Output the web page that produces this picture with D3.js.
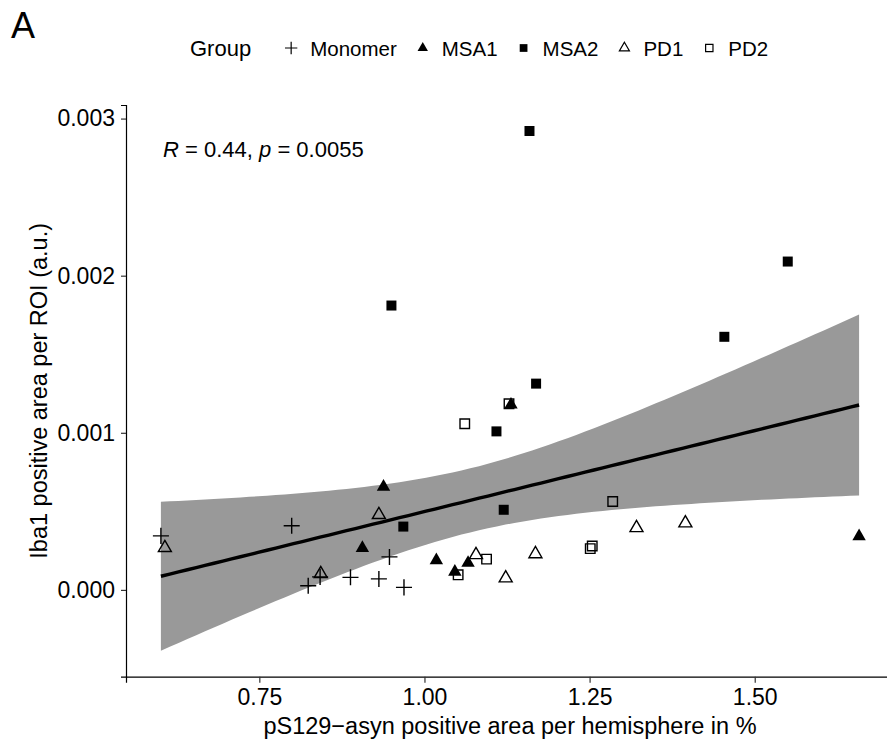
<!DOCTYPE html>
<html>
<head>
<meta charset="utf-8">
<script src="https://cdn.jsdelivr.net/npm/d3@7"></script>
<style>
    body { margin: 0; background: #fff; }
    #chart-area { width: 887px; height: 747px; overflow: hidden; }
    text { font-family: "Liberation Sans", Arial, Helvetica, sans-serif; fill: #000; }
</style>
</head>
<body>
<div id="chart-area"></div>
<script>
// values: x = pS129-asyn area (%), y = Iba1 area (a.u.)
const groupNames = ["Monomer", "MSA1", "MSA2", "PD1", "PD2"];

const monomerX = [0.601, 0.799, 0.824, 0.842, 0.888, 0.931, 0.969, 0.947];
const monomerY = [0.000344, 0.000408, 0.000026, 0.000083, 0.000080, 0.000070, 0.000016, 0.000210];

const msa1X = [0.906, 1.018, 1.066, 1.046, 0.938, 1.131, 1.658];
const msa1Y = [0.000266, 0.000188, 0.000172, 0.000115, 0.000656, 0.001179, 0.000341];

const msa2X = [1.159, 0.950, 1.550, 1.454, 1.169, 1.109, 1.120, 0.968];
const msa2Y = [0.002921, 0.001810, 0.002090, 0.001611, 0.001313, 0.001009, 0.000510, 0.000403];

const pd1X = [0.607, 0.931, 0.843, 1.078, 1.168, 1.123, 1.321, 1.395];
const pd1Y = [0.000268, 0.000478, 0.000102, 0.000223, 0.000229, 0.000075, 0.000395, 0.000425];

const pd2X = [1.285, 1.094, 1.051, 1.251, 1.254, 1.061, 1.128];
const pd2Y = [0.000563, 0.000196, 0.000096, 0.000263, 0.000279, 0.001058, 0.001185];

const xTicks = [0.75, 1.00, 1.25, 1.50];
const yTicks = [0.000, 0.001, 0.002, 0.003];

const corR = "0.44";
const corP = "0.0055";

// t quantile for the 95% band, df = n - 2 = 36
const tCrit = 2.028;

class ScatterVis {
    constructor(parentElement, points) {
        this.parentElement = parentElement;
        this.points = points;
        this.initVis();
    }

    initVis() {
        const vis = this;

        vis.margin = { top: 105, left: 126 };
        vis.width = 768;
        vis.height = 571.7;

        vis.root = d3.select("#" + vis.parentElement)
            .append("svg")
            .attr("width", 887)
            .attr("height", 747);

        vis.root.append("rect")
            .attr("width", 887)
            .attr("height", 747)
            .attr("fill", "#fff");

        vis.svg = vis.root.append("g")
            .attr("transform", `translate(${vis.margin.left}, ${vis.margin.top})`);

        vis.x = d3.scaleLinear().range([0, vis.width]);
        vis.y = d3.scaleLinear().range([vis.height, 0]);

        vis.bandPath = vis.svg.append("path").attr("class", "band");
        vis.fitPath = vis.svg.append("path").attr("class", "fit");
        vis.pointGroup = vis.svg.append("g").attr("class", "points");

        vis.xAxisGroup = vis.svg.append("g")
            .attr("class", "axis axis--x")
            .attr("transform", `translate(0, ${vis.height})`);
        vis.yAxisGroup = vis.svg.append("g")
            .attr("class", "axis axis--y");

        // shapes like ggplot 3, 17, 15, 2, 0
        vis.shapes = {
            Monomer: { type: d3.symbolPlus, size: 86, fill: "none", stroke: "#000" },
            MSA1: { type: d3.symbolTriangle, size: 78, fill: "#000", stroke: "none" },
            MSA2: { type: d3.symbolSquare, size: 100, fill: "#000", stroke: "none" },
            PD1: { type: d3.symbolTriangle2, size: 121, fill: "none", stroke: "#000" },
            PD2: { type: d3.symbolSquare2, size: 115, fill: "none", stroke: "#000" }
        };

        // panel label
        vis.root.append("text")
            .text("A")
            .attr("x", 11)
            .attr("y", 38)
            .style("font-size", "36px");

        // axis titles
        vis.root.append("text")
            .text("pS129\u2212asyn positive area per hemisphere in %")
            .attr("x", vis.margin.left + vis.width / 2)
            .attr("y", 734)
            .attr("text-anchor", "middle")
            .style("font-size", "23.5px");

        vis.root.append("text")
            .text("Iba1 positive area per ROI (a.u.)")
            .attr("transform", `translate(47, ${vis.margin.top + vis.height / 2}) rotate(-90)`)
            .attr("text-anchor", "middle")
            .style("font-size", "23.5px");

        // correlation label
        const cor = vis.root.append("text")
            .attr("x", 163)
            .attr("y", 157)
            .style("font-size", "22px");
        cor.append("tspan").text("R").style("font-style", "italic");
        cor.append("tspan").text(` = ${corR}, `);
        cor.append("tspan").text("p").style("font-style", "italic");
        cor.append("tspan").text(` = ${corP}`);

        vis.drawLegend();
        vis.wrangleData();
    }

    drawLegend() {
        const vis = this;
        const legend = vis.root.append("g").attr("class", "legend");
        const baseY = 56;

        const title = legend.append("text")
            .text("Group")
            .attr("x", 190)
            .attr("y", baseY)
            .style("font-size", "22px");

        let cursor = 190 + title.node().getComputedTextLength() + 40;

        groupNames.forEach(name => {
            const shape = vis.shapes[name];
            legend.append("path")
                .attr("d", d3.symbol().type(shape.type).size(shape.size * 0.6)())
                .attr("transform", `translate(${cursor}, ${baseY - 8})`)
                .attr("fill", shape.fill)
                .attr("stroke", shape.stroke)
                .attr("stroke-width", 1.2);

            const label = legend.append("text")
                .text(name)
                .attr("x", cursor + 19)
                .attr("y", baseY)
                .style("font-size", "20.5px");

            cursor += 19 + label.node().getComputedTextLength() + 26;
        });
    }

    wrangleData() {
        const vis = this;
        const pts = vis.points;
        const n = pts.length;

        const xBar = d3.mean(pts, d => d.x);
        const yBar = d3.mean(pts, d => d.y);
        const sxx = d3.sum(pts, d => (d.x - xBar) ** 2);
        const sxy = d3.sum(pts, d => (d.x - xBar) * (d.y - yBar));

        vis.slope = sxy / sxx;
        vis.intercept = yBar - vis.slope * xBar;

        const rss = d3.sum(pts, d => (d.y - (vis.intercept + vis.slope * d.x)) ** 2);
        const s = Math.sqrt(rss / (n - 2));

        const [x0, x1] = d3.extent(pts, d => d.x);
        vis.fitData = d3.range(80).map(i => {
            const xv = x0 + (x1 - x0) * i / 79;
            const fit = vis.intercept + vis.slope * xv;
            const se = s * Math.sqrt(1 / n + (xv - xBar) ** 2 / sxx);
            return { x: xv, fit: fit, lo: fit - tCrit * se, hi: fit + tCrit * se };
        });

        vis.updateVis();
    }

    updateVis() {
        const vis = this;

        // ggplot style 5% expansion
        const xExt = d3.extent(vis.points, d => d.x);
        const yLo = Math.min(d3.min(vis.points, d => d.y), d3.min(vis.fitData, d => d.lo));
        const yHi = Math.max(d3.max(vis.points, d => d.y), d3.max(vis.fitData, d => d.hi));
        const xPad = (xExt[1] - xExt[0]) * 0.05;
        const yPad = (yHi - yLo) * 0.05;
        vis.x.domain([xExt[0] - xPad, xExt[1] + xPad]);
        vis.y.domain([yLo - yPad, yHi + yPad]);

        vis.bandPath.datum(vis.fitData)
            .attr("d", d3.area()
                .x(d => vis.x(d.x))
                .y0(d => vis.y(d.lo))
                .y1(d => vis.y(d.hi)))
            .attr("fill", "#999999");

        vis.fitPath.datum(vis.fitData)
            .attr("d", d3.line()
                .x(d => vis.x(d.x))
                .y(d => vis.y(d.fit)))
            .attr("fill", "none")
            .attr("stroke", "#000")
            .attr("stroke-width", 3.4);

        vis.pointGroup.selectAll("path")
            .data(vis.points)
            .join("path")
            .attr("d", d => d3.symbol().type(vis.shapes[d.group].type).size(vis.shapes[d.group].size)())
            .attr("transform", d => `translate(${vis.x(d.x)}, ${vis.y(d.y)})`)
            .attr("fill", d => vis.shapes[d.group].fill)
            .attr("stroke", d => vis.shapes[d.group].stroke)
            .attr("stroke-width", 1.4);

        vis.xAxisGroup.call(d3.axisBottom(vis.x)
            .tickValues(xTicks)
            .tickFormat(d3.format(".2f"))
            .tickSizeOuter(0)
            .tickSize(6)
            .tickPadding(6));

        vis.yAxisGroup.call(d3.axisLeft(vis.y)
            .tickValues(yTicks)
            .tickFormat(d3.format(".3f"))
            .tickSizeOuter(0)
            .tickSize(5)
            .tickPadding(6));

        vis.svg.selectAll(".axis .domain")
            .attr("stroke", "#000")
            .attr("stroke-width", 1.2);
        vis.svg.selectAll(".axis .tick line")
            .attr("stroke", "#333")
            .attr("stroke-width", 1.2);
        vis.svg.selectAll(".axis text")
            .style("font-size", "23px")
            .style("font-family", "'Liberation Sans', Arial, Helvetica, sans-serif")
            .attr("fill", "#000");
    }
}

const seriesX = [monomerX, msa1X, msa2X, pd1X, pd2X];
const seriesY = [monomerY, msa1Y, msa2Y, pd1Y, pd2Y];
const allPoints = [];
groupNames.forEach((g, i) => {
    seriesX[i].forEach((xv, j) => allPoints.push({ group: g, x: xv, y: seriesY[i][j] }));
});

const myScatter = new ScatterVis("chart-area", allPoints);
</script>
</body>
</html>
